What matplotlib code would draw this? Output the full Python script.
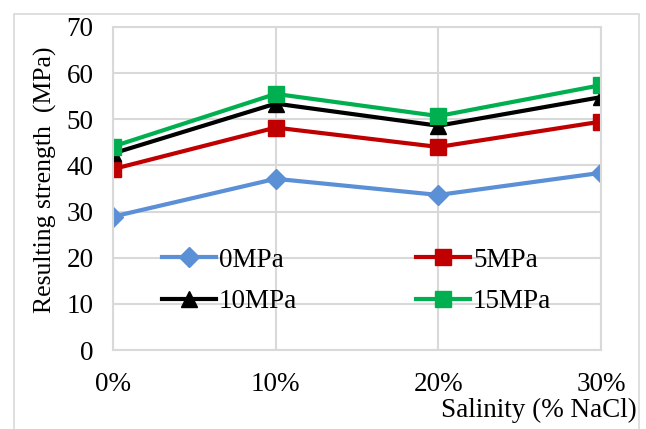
import matplotlib.pyplot as plt
from matplotlib.patches import Rectangle

plt.rcParams['font.family'] = ['Liberation Serif', 'DejaVu Serif']

salinity = [0, 10, 20, 30]
tick_labels = ['0%', '10%', '20%', '30%']
s_0mpa = [28.9, 37.1, 33.6, 38.4]
s_5mpa = [39.2, 48.2, 44.0, 49.5]
s_10mpa = [42.6, 53.4, 48.6, 54.8]
s_15mpa = [44.1, 55.5, 50.7, 57.4]

grid_col = '#d9d9d9'

fig = plt.figure(figsize=(6.46, 4.29), dpi=100)
ax = fig.add_axes([113/646, 1 - 350/429, 488/646, 323/429])

# outer chart border
fig.patches.append(Rectangle((14/646, -0.05), 625/646, 1 - 14/429 + 0.05,
                             transform=fig.transFigure, fill=False,
                             edgecolor=grid_col, linewidth=1.2))

l0, = ax.plot(salinity, s_0mpa, color='#5B8FD6', lw=3, marker='D', ms=10, label='0MPa')
l5, = ax.plot(salinity, s_5mpa, color='#C00000', lw=3, marker='s', ms=11, label='5MPa')
l10, = ax.plot(salinity, s_10mpa, color='black', lw=3, marker='^', ms=11, label='10MPa')
l15, = ax.plot(salinity, s_15mpa, color='#00B050', lw=3, marker='s', ms=11, label='15MPa')

ax.set_xlim(0, 30)
ax.set_ylim(0, 70)
ax.set_xticks(salinity)
ax.set_xticklabels(tick_labels)
ax.set_yticks(range(0, 71, 10))
ax.tick_params(axis='both', length=0, labelsize=19.5)
ax.tick_params(axis='y', pad=14)
ax.tick_params(axis='x', pad=16)
ax.grid(True, color=grid_col, lw=1.5)
ax.set_axisbelow(True)
for sp in ax.spines.values():
    sp.set_color(grid_col)
    sp.set_linewidth(1.5)

fig.text(45/646, 1 - 180/429, 'Resulting strength  (MPa)', rotation=90,
         ha='center', va='center', fontsize=18.5)
fig.text(637/646, 1 - 410/429, 'Salinity (% NaCl)', ha='right', va='center',
         fontsize=19.5)

# legend filled row by row: 0MPa, 5MPa / 10MPa, 15MPa
handles = [l0, l10, l5, l15]
ax.legend(handles, [h.get_label() for h in handles], ncol=2,
          loc='center left', bbox_to_anchor=(0.1, 0.214), frameon=False,
          fontsize=19.5, handlelength=2.0, handletextpad=0.1, columnspacing=4.4,
          labelspacing=0.6, borderpad=0, borderaxespad=0)

fig.savefig('out.png', dpi=100)
